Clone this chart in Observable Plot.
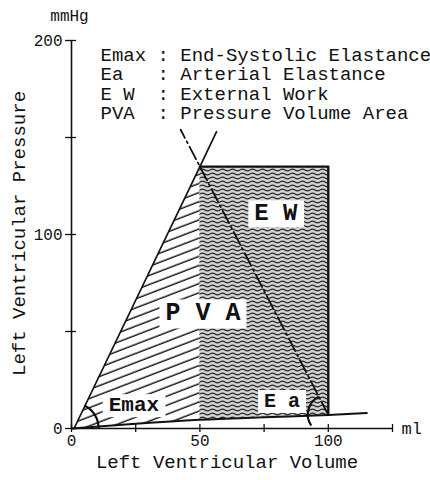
<!DOCTYPE html>
<html>
<head>
<meta charset="utf-8">
<script src="https://cdn.jsdelivr.net/npm/d3@7"></script>
<script src="https://cdn.jsdelivr.net/npm/@observablehq/plot@0.6"></script>
<style>
  body { margin: 0; background: #fff; }
  svg text { white-space: pre; }
</style>
</head>
<body>
<div id="chart"></div>
<script>
// End-systolic point, end-diastolic volume and volume-axis intercept of Emax
const esv = 50;
const esp = 135;
const edv = 100;
const v0 = 1;

// End-diastolic pressure-volume relation (the baseline curve)
const edpvrVolume = [0, 25, 50, 75, 100, 115];
const edpvrPressure = [0, 2.5, 4.5, 5.8, 7, 8];

// Emax line: from V0 through the end-systolic point, running a little past it
const emaxVolume = [1, 50, 56.5];
const emaxPressure = [0, 135, 153];

// Ea line: from the end-diastolic point up through the end-systolic point
const eaVolume = [100, 50, 42.5];
const eaPressure = [7, 135, 154];

// Axis ticks and labels
const xTicks = [0, 25, 50, 75, 100, 125];
const xTickLabels = [0, 50, 100];
const yTicks = [0, 50, 100, 150, 200];
const yTickLabels = [0, 100, 200];

// Glossary
const legendTerms = ["Emax", "Ea", "E W", "PVA"];
const legendMeanings = ["End-Systolic Elastance", "Arterial Elastance", "External Work", "Pressure Volume Area"];

// Area / slope labels and where they sit (volume, pressure)
const regionLabels = ["P V A", "E W", "Emax", "E a"];
const labelVolume = [51.2, 79.6, 24.3, 82];
const labelPressure = [59.8, 111.3, 12.4, 14.4];

const edpvr = edpvrVolume.map((v, i) => ({v, p: edpvrPressure[i]}));
const edpAt = (v) => edpvr.find((d) => d.v === v).p;
const emax = emaxVolume.map((v, i) => ({v, p: emaxPressure[i]}));
const ea = eaVolume.map((v, i) => ({v, p: eaPressure[i]}));

// PVA region: Emax line, the ESV vertical and the EDPVR
const pva = [
  {v: v0, p: 0},
  {v: esv, p: esp},
  ...edpvr.filter((d) => d.v <= esv).reverse()
];
// External work: from ESV to EDV between the EDPVR and end-systolic pressure
const ewBase = edpvr.filter((d) => d.v >= esv && d.v <= edv);
const ewOutline = [{v: esv, p: esp}, {v: edv, p: esp}, {v: edv, p: edpAt(edv)}];

const legendText = legendTerms
  .map((t, i) => t.padEnd(5) + ": " + legendMeanings[i])
  .join("\n");

const labelSizes = [25, 24, 21, 20];
const mono = "'Liberation Mono', 'DejaVu Sans Mono', monospace";

// Fill patterns: diagonal hatching for PVA, wavy texture for EW
const patterns = () => {
  const defs = d3.create("svg:defs");
  const hatch = defs.append("pattern")
    .attr("id", "hatch")
    .attr("patternUnits", "userSpaceOnUse")
    .attr("width", 12).attr("height", 8.5)
    .attr("patternTransform", "rotate(-21)");
  hatch.append("line")
    .attr("x1", 0).attr("y1", 4).attr("x2", 12).attr("y2", 4)
    .attr("stroke", "#111").attr("stroke-width", 1.4);
  const waves = defs.append("pattern")
    .attr("id", "waves")
    .attr("patternUnits", "userSpaceOnUse")
    .attr("width", 10).attr("height", 4);
  waves.append("rect").attr("width", 10).attr("height", 4).attr("fill", "#d2d2d2");
  waves.append("path")
    .attr("d", "M0,2 Q2.5,0.4 5,2 T10,2")
    .attr("fill", "none").attr("stroke", "#252525").attr("stroke-width", 1.3);
  return defs.node();
};

const plot = Plot.plot({
  width: 430,
  height: 480,
  marginLeft: 71,
  marginRight: 38,
  marginTop: 40,
  marginBottom: 52,
  x: {domain: [0, 125], axis: null},
  y: {domain: [0, 200], axis: null},
  style: {fontFamily: mono, fontSize: "16px", color: "#111", background: "#fff", overflow: "visible"},
  marks: [
    patterns,
    Plot.line(pva, {x: "v", y: "p", fill: "url(#hatch)", stroke: "none"}),
    Plot.areaY(ewBase, {x: "v", y1: "p", y2: esp, fill: "url(#waves)"}),
    Plot.line(ewOutline, {x: "v", y: "p", stroke: "#111", strokeWidth: 2.4}),
    Plot.line(edpvr, {x: "v", y: "p", stroke: "#111", strokeWidth: 2, curve: "monotone-x"}),
    Plot.line(emax, {x: "v", y: "p", stroke: "#111", strokeWidth: 1.7}),
    Plot.line(ea, {x: "v", y: "p", stroke: "#111", strokeWidth: 1.8, strokeDasharray: "14,4,2,4"}),
    // axes
    Plot.ruleY([0], {x1: 0, x2: 125, stroke: "#111", strokeWidth: 1.6}),
    Plot.ruleX([0], {y1: 0, y2: 200, stroke: "#111", strokeWidth: 1.6}),
    Plot.ruleX(xTicks, {x: (d) => d, y1: 0, y2: 0, insetTop: -4, insetBottom: -4, stroke: "#111", strokeWidth: 1.3}),
    Plot.ruleY(yTicks, {y: (d) => d, x1: 0, x2: 0, insetLeft: -6, insetRight: -5, stroke: "#111", strokeWidth: 1.3}),
    Plot.text(xTickLabels, {x: (d) => d, y: 0, text: (d) => String(d), dy: 12, fontSize: 16}),
    Plot.text(yTickLabels, {x: 0, y: (d) => d, text: (d) => String(d), textAnchor: "end", dx: -9, fontSize: 16}),
    Plot.text(["mmHg"], {x: 0, y: 200, text: (d) => d, dy: -25, dx: -2, fontSize: 16}),
    Plot.text(["ml"], {x: 125, y: 0, text: (d) => d, textAnchor: "start", dx: 9, fontSize: 17}),
    Plot.text(["Left Ventricular Volume"], {frameAnchor: "bottom", text: (d) => d, textAnchor: "middle", dy: 39, dx: -5, fontSize: 19}),
    Plot.text(["Left Ventricular Pressure"], {frameAnchor: "left", text: (d) => d, textAnchor: "middle", dx: -53, dy: -1, rotate: -90, fontSize: 19}),
    // glossary
    Plot.text([legendText], {frameAnchor: "top-left", text: (d) => d, textAnchor: "start", lineAnchor: "top", lineHeight: 1.02, dx: 29, dy: 6.5, fontSize: 19}),
    // region labels
    ...regionLabels.map((label, i) =>
      Plot.text([label], {
        x: labelVolume[i], y: labelPressure[i], text: (d) => d,
        fontSize: labelSizes[i], fontWeight: "bold"
      })
    )
  ]
});

document.getElementById("chart").appendChild(plot);

// White boxes behind the region labels
d3.select(plot).selectAll("text").each(function () {
  if (!regionLabels.includes(this.textContent)) return;
  const b = this.getBBox();
  const rect = document.createElementNS("http://www.w3.org/2000/svg", "rect");
  rect.setAttribute("x", b.x - 6);
  rect.setAttribute("y", b.y);
  rect.setAttribute("width", b.width + 12);
  rect.setAttribute("height", b.height);
  rect.setAttribute("fill", "#fff");
  rect.setAttribute("stroke", "none");
  const t = this.getAttribute("transform");
  if (t) rect.setAttribute("transform", t);
  this.parentNode.insertBefore(rect, this);
});

// Angle arcs marking the Emax and Ea slopes
const sx = plot.scale("x"), sy = plot.scale("y");
const arcPath = (cx, cy, r, a0, a1) => { const p = d3.path(); p.arc(cx, cy, r, a0, a1); return p.toString(); };
{
  const cx = sx.apply(v0), cy = sy.apply(0);
  const a = Math.atan2(sy.apply(esp) - cy, sx.apply(esv) - cx);
  d3.select(plot).append("path")
    .attr("d", arcPath(cx, cy, 25, a, 0.04))
    .attr("fill", "none").attr("stroke", "#111").attr("stroke-width", 2.2);
}
{
  const cx = sx.apply(edv), cy = sy.apply(edpAt(edv));
  const a = Math.atan2(sy.apply(esp) - cy, sx.apply(esv) - cx) + 2 * Math.PI;
  d3.select(plot).append("path")
    .attr("d", arcPath(cx, cy, 20, 2.55, a))
    .attr("fill", "none").attr("stroke", "#111").attr("stroke-width", 2.2);
}
</script>
</body>
</html>
